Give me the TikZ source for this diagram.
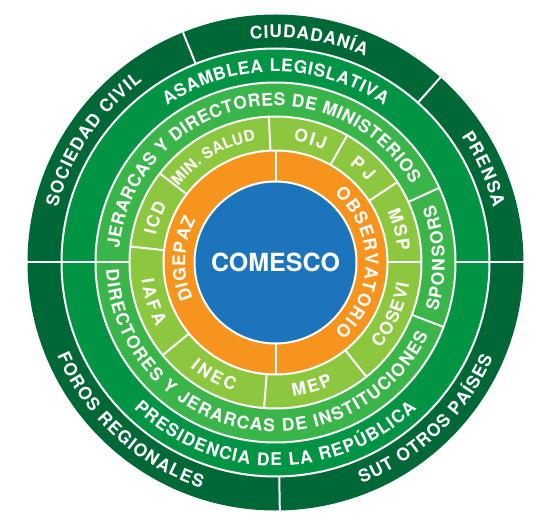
\documentclass[tikz,border=0pt]{standalone}
\usepackage{fontspec}
\setmainfont{TeX Gyre Heros}
\usetikzlibrary{decorations.text}
\definecolor{gA}{RGB}{0,104,55}
\definecolor{gB}{RGB}{0,148,68}
\definecolor{gC}{RGB}{57,181,74}
\definecolor{gD}{RGB}{141,198,63}
\definecolor{orn}{RGB}{247,148,30}
\definecolor{blu}{RGB}{28,117,188}
% text, start angle, end angle, baseline radius, font size
\newcommand{\arclabel}[5]{%
\path[decorate,decoration={text along path,text align={fit to path},text color=white,
  text={|\fontsize{#5pt}{#5pt}\selectfont\bfseries|#1}}]
  (#2:#4pt) arc[start angle=#2,end angle=#3,radius=#4pt];}
\tikzset{ringsep/.style={white,line width=2pt}}
\begin{document}
\begin{tikzpicture}
\useasboundingbox (-275.5pt,-267.5pt) rectangle (278.5pt,262.5pt);
\fill[white] (-275.5pt,-267.5pt) rectangle (278.5pt,262.5pt);
% rings
\fill[gA] (0,0) circle (248pt);
\fill[gB] (0,0) circle (214pt);
\fill[gC] (0,0) circle (180pt);
\fill[gD] (0,0) circle (146pt);
\fill[orn] (0,0) circle (112pt);
\fill[blu] (0,0) circle (81pt);
\foreach \r in {214,180,146,112,81} \draw[ringsep] (0,0) circle (\r pt);
% dividers
\foreach \a in {48.3,111.9,0,180,271} \draw[ringsep] (\a:214pt) -- (\a:248pt);
\foreach \a in {0,180} \draw[ringsep] (\a:180pt) -- (\a:214pt);
\foreach \a in {180,24.5,339} \draw[ringsep] (\a:146pt) -- (\a:180pt);
\foreach \a in {92.6,60.6,33.4,0,308.5,265.5,219.4,173.7,142.4} \draw[ringsep] (\a:112pt) -- (\a:146pt);
\foreach \a in {90,270} \draw[ringsep] (\a:81pt) -- (\a:112pt);
% ring 1
\arclabel{CIUDADANÍA}{96.4}{66.4}{224.7}{17.5}
\arclabel{PRENSA}{34.2}{14.2}{224.7}{17.5}
\arclabel{SOCIEDAD CIVIL}{165.8}{126.3}{224.7}{17.5}
\arclabel{FOROS REGIONALES}{203}{251.8}{237.3}{17.5}
\arclabel{SUT OTROS PAÍSES}{291.3}{336.4}{237.3}{17.5}
% ring 2
\arclabel{ASAMBLEA LEGISLATIVA}{124.6}{55.3}{190.7}{17.5}
\arclabel{PRESIDENCIA DE LA REPÚBLICA}{225.8}{314}{203.3}{17.5}
% ring 3
\arclabel{JERARCAS Y DIRECTORES DE MINISTERIOS}{174.8}{29.8}{156.7}{17.5}
\arclabel{DIRECTORES Y JERARCAS DE INSTITUCIONES}{182.3}{334.5}{169.3}{17.5}
\arclabel{SPONSORS}{-16.9}{20.2}{169.3}{17.5}
% ring 4
\arclabel{MIN. SALUD}{141.8}{99.2}{123.5}{15.5}
\arclabel{OIJ}{81.6}{66.8}{122.7}{17.5}
\arclabel{PJ}{53}{41.3}{122.7}{17.5}
\arclabel{MSP}{24.4}{5.4}{122.7}{17.5}
\arclabel{COSEVI}{320.6}{351}{135.3}{17.5}
\arclabel{MEP}{277.4}{295.2}{135.3}{17.5}
\arclabel{INEC}{230.9}{252}{135.3}{17.5}
\arclabel{IAFA}{187.3}{208.5}{135.3}{17.5}
\arclabel{ICD}{167.3}{151.9}{122.7}{17.5}
% orange ring
\arclabel{OBSERVATORIO}{49.3}{-49.3}{90.2}{17.5}
\arclabel{DIGEPAZ}{203.8}{151.6}{90.2}{17.5}
% centre
\node[text=white,font=\fontsize{25pt}{25pt}\selectfont\bfseries] (comesco) at (0,0) {COMESCO};
\end{tikzpicture}
\end{document}
